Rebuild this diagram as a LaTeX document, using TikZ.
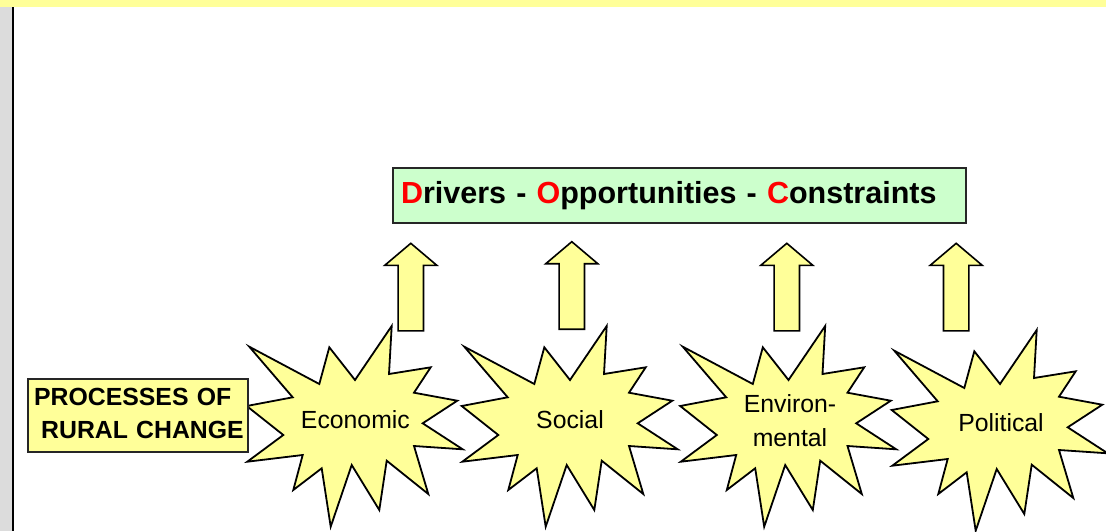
\documentclass[tikz,border=0pt]{standalone}
\usepackage{fontspec}
\setmainfont{Liberation Sans}
\definecolor{paleyellow}{HTML}{FFFF99}
\definecolor{palegreen}{HTML}{CCFFCC}
\definecolor{sidegrey}{HTML}{DCDCDC}
\begin{document}
\begin{tikzpicture}[x=1pt,y=-1pt,
  burstline/.style={draw=black,line width=1.8pt,line join=miter,fill=paleyellow},
  arrowline/.style={draw=black,line width=1.6pt,line join=miter,fill=paleyellow},
  boxline/.style={draw=black!85,line width=1.8pt,inner sep=0pt},
  startext/.style={font=\fontsize{24.8}{33.3}\selectfont,inner sep=0pt,align=center},
  % twelve-point explosion, outline given around its own frame
  burst/.pic={
    \path[burstline] (246.7,406) -- (292.7,397.3) -- (249.3,346.7) -- (319.3,384)
      -- (329.3,347.3) -- (355,380) -- (391.7,326) -- (389,374) -- (430.7,367.3)
      -- (414,392.7) -- (457.3,400.7) -- (422.7,423.3) -- (462.7,449.3)
      -- (414,446) -- (428.3,494) -- (386.7,460.7) -- (379.3,510) -- (351.7,465)
      -- (330.7,526.7) -- (321.7,468.3) -- (293.3,490) -- (302.7,455)
      -- (247.3,461.7) -- (283.3,435) -- cycle;
  },
  % upward block arrow, origin at its tip
  blockup/.pic={
    \path[arrowline] (0,0) -- (26,22) -- (12.7,22) -- (12.7,87.5) -- (-12.7,87.5)
      -- (-12.7,22) -- (-26,22) -- cycle;
  }]
\clip (0,0) rectangle (1106,531);
\useasboundingbox (0,0) rectangle (1106,531);

% page frame: yellow band on top, grey margin with a black rule
\fill[paleyellow] (0,0) rectangle (1106,6.7);
\fill[sidegrey] (0,6.7) rectangle (12,531);
\fill[black] (12,6.7) rectangle (14.2,531);

% explosions
\pic at (0,0) {burst};
\pic at (215,0) {burst};
\pic at (433.5,0) {burst};
\pic at (645,4) {burst};

\node[startext,anchor=base] (economic) at (355.4,428.3) {Economic};
\node[startext,anchor=base] (social) at (570,428.3) {Social};
\node[startext,anchor=center] (environmental) at (790,420.5) {Environ-\\mental};
\node[startext,anchor=base] (political) at (1001,431.7) {Political};

% block arrows
\pic at (410.8,243.3) {blockup};
\pic at (571.8,241.7) {blockup};
\pic at (786.8,243.3) {blockup};
\pic at (956.2,243.3) {blockup};

% heading box
\node[boxline,fill=palegreen,minimum width=573pt,minimum height=54.5pt,
      text width=557pt,inner xsep=8pt,align=left,
      font=\fontsize{30.5}{36}\selectfont\bfseries] (doc) at (679.5,195.5)
  {\textcolor{red}{D}rivers - \textcolor{red}{O}pportunities - \textcolor{red}{C}onstraints};

% label box on the left
\node[boxline,fill=paleyellow,minimum width=220.6pt,minimum height=72.4pt,
      text width=212.6pt,inner xsep=4pt,inner ysep=4pt,align=left,
      text height=18.2pt,text depth=37.3pt,
      font=\fontsize{24.8}{33}\selectfont\bfseries] (processes) at (138,415.5)
  {\hspace*{2.5pt}PROCESSES OF\\\hspace*{9.5pt}RURAL CHANGE};
\end{tikzpicture}
\end{document}
